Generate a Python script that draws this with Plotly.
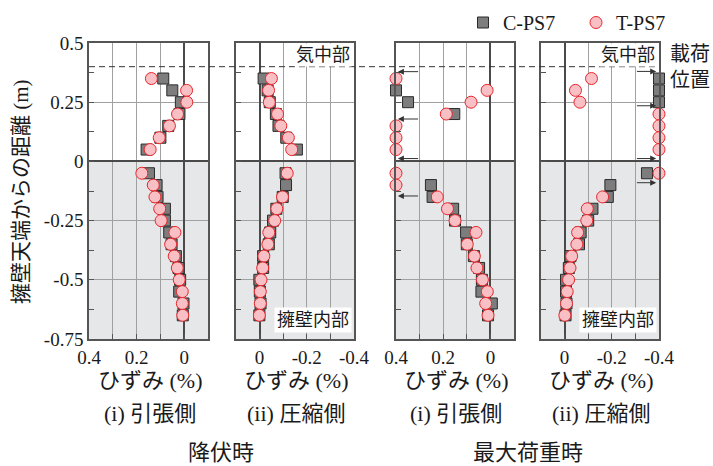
import plotly.graph_objects as go

# Measurement heights from the top of the retaining wall (m)
heights = [0.35, 0.30, 0.25, 0.20, 0.15, 0.10, 0.05,
           -0.05, -0.10, -0.15, -0.20, -0.25, -0.30, -0.35,
           -0.40, -0.45, -0.50, -0.55, -0.60, -0.65]

# Strain (%) at yield, tension side
yield_tension_c = [0.088, 0.050, 0.014, 0.020, 0.067, 0.100, 0.158,
                   0.148, 0.116, 0.112, 0.081, 0.081, 0.063, 0.053,
                   0.035, 0.024, 0.017, 0.021, 0.003, 0.006]
yield_tension_t = [0.138, -0.010, -0.011, 0.028, 0.062, 0.105, 0.143,
                   0.178, 0.130, 0.123, 0.103, 0.097, 0.039, 0.057,
                   0.042, 0.029, 0.021, 0.008, 0.008, 0.006]

# Strain (%) at yield, compression side
yield_comp_c = [-0.017, -0.034, -0.043, -0.069, -0.080, -0.113, -0.158,
                -0.110, -0.112, -0.098, -0.071, -0.057, -0.045, -0.039,
                -0.015, -0.015, 0.001, -0.001, -0.004, 0.001]
yield_comp_t = [-0.050, -0.038, -0.041, -0.076, -0.090, -0.122, -0.136,
                -0.117, None, -0.097, -0.073, -0.064, -0.039, -0.035,
                -0.018, -0.013, -0.006, -0.003, -0.003, 0.001]

# Strain (%) at maximum load, tension side (off-scale values held at 0.4)
max_tension_c = [None, 0.400, 0.349, 0.153, None, None, None,
                 None, 0.252, 0.245, 0.158, 0.150, 0.103, 0.100,
                 0.070, 0.048, 0.036, 0.038, -0.006, 0.010]
max_tension_t = [0.400, 0.014, 0.082, 0.187, 0.400, 0.400, 0.400,
                 0.400, 0.400, 0.225, 0.182, 0.150, 0.061, 0.098,
                 0.068, 0.057, 0.034, 0.013, 0.020, 0.010]

# Strain (%) at maximum load, compression side (off-scale values held at -0.4)
max_comp_c = [-0.400, -0.400, -0.400, None, None, None, None,
              -0.349, -0.194, -0.183, -0.118, -0.100, -0.068, -0.061,
              -0.025, -0.018, -0.006, -0.006, -0.008, -0.004]
max_comp_t = [-0.114, -0.046, -0.065, -0.400, -0.400, -0.400, -0.400,
              -0.400, None, -0.161, -0.096, -0.094, -0.055, -0.052,
              -0.030, -0.023, -0.017, -0.011, -0.008, -0.001]

# Heights of the off-scale arrows on the maximum-load panels
arrows_tension = [0.379, 0.179, 0.012, -0.146]
arrows_comp = [0.380, 0.235, 0.012, -0.090]

x_ticks_tension = ["0.4", "0.2", "0"]
x_ticks_comp = ["0", "-0.2", "-0.4"]
y_tick_vals = [0.5, 0.25, 0, -0.25, -0.5, -0.75]
y_tick_text = ["0.5", "0.25", "0", "-0.25", "-0.5", "-0.75"]

series_names = ["C-PS7", "T-PS7"]
panel_titles = ["(i) 引張側", "(ii) 圧縮側", "(i) 引張側", "(ii) 圧縮側"]
group_titles = ["降伏時", "最大荷重時"]
x_title = "ひずみ (%)"
y_title = "擁壁天端からの距離 (m)"

W, H = 713, 466
FONT = "Liberation Serif, Noto Sans CJK JP, serif"
INK = "#1a1a1a"
FRAME = "#555555"
GRID = "#a0a0a0"

panel_px = [(89, 208), (236, 354), (396, 514), (541, 659)]
y_top_px, y_bot_px = 43, 339


def px_x(p):
    return p / W


def px_y(p):
    return (H - p) / H


panels = [
    (yield_tension_c, yield_tension_t, [0.4, -0.1], [0.4, 0.2, 0], x_ticks_tension),
    (yield_comp_c, yield_comp_t, [0.1, -0.4], [0, -0.2, -0.4], x_ticks_comp),
    (max_tension_c, max_tension_t, [0.4, -0.1], [0.4, 0.2, 0], x_ticks_tension),
    (max_comp_c, max_comp_t, [0.1, -0.4], [0, -0.2, -0.4], x_ticks_comp),
]

fig = go.Figure()
layout = dict(
    width=W, height=H,
    margin=dict(l=0, r=0, t=0, b=0, autoexpand=False),
    paper_bgcolor="white", plot_bgcolor="white",
    font=dict(family=FONT, color=INK, size=18),
    showlegend=True,
    legend=dict(orientation="h", x=px_x(463), y=px_y(3), xanchor="left", yanchor="top",
                font=dict(family=FONT, size=20, color=INK),
                bgcolor="rgba(0,0,0,0)", itemwidth=30, tracegroupgap=0,
                entrywidth=68, entrywidthmode="pixels"),
)

shapes = []
annotations = []

for i, (c_vals, t_vals, xr, tv, tt) in enumerate(panels):
    n = i + 1
    xa = "x" if n == 1 else f"x{n}"
    ya = "y" if n == 1 else f"y{n}"
    x0, x1 = panel_px[i]

    fig.add_trace(go.Scatter(
        x=c_vals, y=heights, mode="markers", name=series_names[0],
        xaxis=xa, yaxis=ya, cliponaxis=False, showlegend=(n == 1),
        marker=dict(symbol="square", size=11, color="#7d7d7d",
                    line=dict(color="#2a2a2a", width=1)),
    ))
    fig.add_trace(go.Scatter(
        x=t_vals, y=heights, mode="markers", name=series_names[1],
        xaxis=xa, yaxis=ya, cliponaxis=False, showlegend=(n == 1),
        marker=dict(symbol="circle", size=12, color="#f8c0c4",
                    line=dict(color="#e8262c", width=1)),
    ))

    axis_common = dict(
        showline=True, mirror=True, linecolor=FRAME, linewidth=1.5,
        ticks="inside", ticklen=5, tickcolor=FRAME, tickwidth=1,
        showgrid=True, gridcolor=GRID, gridwidth=1,
        zeroline=True, zerolinecolor="#4a4a4a", zerolinewidth=1.6,
        tickfont=dict(family=FONT, size=19, color=INK),
        automargin=False,
    )
    layout["xaxis" if n == 1 else f"xaxis{n}"] = dict(
        axis_common, domain=[px_x(x0), px_x(x1)], anchor=ya, range=xr,
        tickmode="array", tickvals=tv, ticktext=tt,
        minor=dict(dtick=0.1, tick0=0, ticks="inside", ticklen=5,
                   tickcolor=FRAME, showgrid=True, gridcolor=GRID, gridwidth=1),
    )
    layout["yaxis" if n == 1 else f"yaxis{n}"] = dict(
        axis_common, domain=[px_y(y_bot_px), px_y(y_top_px)], anchor=xa,
        range=[-0.75, 0.5], tickmode="array", tickvals=y_tick_vals,
        ticktext=y_tick_text, showticklabels=(n == 1),
        minor=dict(dtick=0.125, tick0=0, ticks="inside", ticklen=5,
                   tickcolor=FRAME, showgrid=False),
    )

    # Shaded zone below the wall top
    shapes.append(dict(type="rect", xref=f"{xa} domain", yref=ya,
                       x0=0, x1=1, y0=-0.75, y1=0, layer="below",
                       fillcolor="#e6e7e8", line=dict(width=0)))

    cx = (x0 + x1) / 2
    annotations.append(dict(text=x_title, x=px_x(cx + 1), y=px_y(380), xref="paper", yref="paper",
                            showarrow=False, font=dict(size=22), xanchor="center", yanchor="middle"))
    annotations.append(dict(text=panel_titles[i], x=px_x(cx + 1), y=px_y(413), xref="paper", yref="paper",
                            showarrow=False, font=dict(size=22), xanchor="center", yanchor="middle"))

    if n in (2, 4):
        annotations.append(dict(text="気中部", x=px_x(x1 - 2), y=px_y(55), xref="paper", yref="paper",
                                showarrow=False, font=dict(size=18), xanchor="right", yanchor="middle",
                                bgcolor="white", borderpad=1))
        annotations.append(dict(text="擁壁内部", x=px_x(x1 - 2), y=px_y(320), xref="paper", yref="paper",
                                showarrow=False, font=dict(size=18), xanchor="right", yanchor="middle",
                                bgcolor="white", borderpad=2))

# Off-scale arrows on the maximum-load panels
for yv in arrows_tension:
    annotations.append(dict(x=0.392, y=yv, ax=0.30, ay=yv, xref="x3", yref="y3",
                            axref="x3", ayref="y3", text="", showarrow=True,
                            arrowhead=2, arrowsize=1.2, arrowwidth=1, arrowcolor="#333"))
for yv in arrows_comp:
    annotations.append(dict(x=-0.388, y=yv, ax=-0.30, ay=yv, xref="x4", yref="y4",
                            axref="x4", ayref="y4", text="", showarrow=True,
                            arrowhead=2, arrowsize=1.2, arrowwidth=1, arrowcolor="#333"))

# Loading position line
shapes.append(dict(type="line", xref="paper", yref="y", x0=px_x(89), x1=px_x(659),
                   y0=0.4, y1=0.4, layer="above",
                   line=dict(color="#333333", width=1, dash="6px,4px")))
annotations.append(dict(text="載荷<br>位置", x=px_x(668), y=px_y(67), xref="paper", yref="paper",
                        showarrow=False, font=dict(size=20), xanchor="left", yanchor="middle",
                        align="left"))

# Group titles
annotations.append(dict(text=group_titles[0], x=px_x(221), y=px_y(452), xref="paper", yref="paper",
                        showarrow=False, font=dict(size=22), xanchor="center", yanchor="middle"))
annotations.append(dict(text=group_titles[1], x=px_x(528), y=px_y(452), xref="paper", yref="paper",
                        showarrow=False, font=dict(size=22), xanchor="center", yanchor="middle"))

# Vertical axis title
annotations.append(dict(text=y_title, x=px_x(21), y=px_y(192), xref="paper", yref="paper",
                        showarrow=False, textangle=-90, font=dict(size=21),
                        xanchor="center", yanchor="middle"))

layout["shapes"] = shapes
layout["annotations"] = annotations
fig.update_layout(**layout)
fig.write_html("out.html")
